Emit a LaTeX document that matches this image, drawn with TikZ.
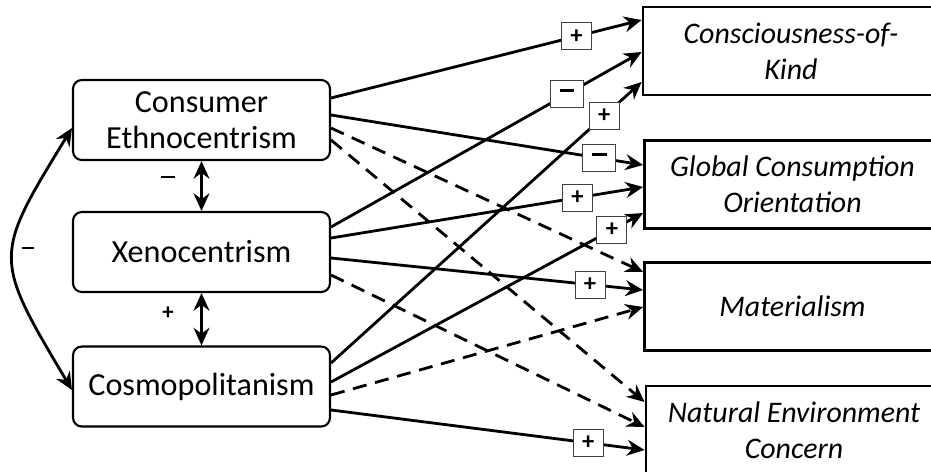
\documentclass[tikz,border=0pt]{standalone}
\usepackage{fontspec}
\setmainfont{Carlito}
\usetikzlibrary{arrows.meta}

\newcommand{\sgnminus}{\rule[0.27em]{0.6em}{0.11em}}

\tikzset{
  leftbox/.style={draw, rounded corners=5pt, line width=1.2pt, minimum width=5.14cm, minimum height=1.6cm, align=center, font=\fontsize{18.3}{20.5}\selectfont},
  rightbox/.style={draw, line width=1.6pt, minimum width=5.92cm, minimum height=1.76cm, align=center, font=\fontsize{17}{20.5}\selectfont\itshape},
  sign/.style={draw=black!75, line width=0.6pt, fill=white, inner sep=0pt, minimum width=0.6cm, minimum height=0.54cm, font=\fontsize{14}{14}\selectfont\bfseries},
  link/.style={line width=1.6pt, -{Stealth[length=10pt,width=9pt]}},
  maybe/.style={link, dash pattern=on 8pt off 5pt},
  twoway/.style={line width=1.6pt, {Stealth[length=10pt,width=9pt]}-{Stealth[length=10pt,width=9pt]}}
}

\begin{document}
\begin{tikzpicture}[x=0.02cm, y=-0.02cm]

\useasboundingbox (0,0) rectangle (931,471);

% antecedents
\node [leftbox] (ce) at (201.5,120) {Consumer\\Ethnocentrism};
\node [leftbox] (xeno) at (201.5,252) {Xenocentrism};
\node [leftbox] (cosmo) at (201.5,386.5) {Cosmopolitanism};

% outcomes
\node [rightbox] (cok) at (791,51) {Consciousness-of-\\Kind};
\node [rightbox] (gco) at (792.5,184.5) {Global Consumption\\Orientation};
\node [rightbox] (mat) at (792.5,306.5) {Materialism};
\node [rightbox] (nec) at (794,430) {Natural Environment\\Concern};

% correlations
\draw [twoway] (ce.south) -- (xeno.north);
\draw [twoway] (xeno.south) -- (cosmo.north);
\draw [twoway] (ce.west |- 0,128) .. controls (-7,257) .. (cosmo.west |- 0,390);
\node (m1) at (168,180) {\fontsize{13}{13}\selectfont\bfseries \sgnminus};
\node (p1) at (168,313) {\fontsize{13}{13}\selectfont\bfseries +};
\node (m2) at (28,251) {\fontsize{12}{12}\selectfont \rule[0.27em]{0.6em}{0.08em}};

% consumer ethnocentrism
\draw [link] (ce.east |- 0,98) -- node [sign, pos=0.79] {+} (cok.west |- 0,20);
\draw [link] (ce.east |- 0,115) -- node [sign, pos=0.86, minimum width=0.66cm] {\sgnminus} (gco.west |- 0,165);
\draw [maybe] (ce.east |- 0,128) -- (mat.west |- 0,272);
\draw [maybe] (ce.east |- 0,140) -- (nec.west |- 0,402);

% xenocentrism
\draw [link] (xeno.east |- 0,227) -- node [sign, pos=0.76, minimum width=0.66cm] {\sgnminus} (cok.west |- 0,52);
\draw [link] (xeno.east |- 0,238) -- node [sign, pos=0.79] {+} (gco.west |- 0,187);
\draw [link] (xeno.east |- 0,258) -- node [sign, pos=0.83] {+} (mat.west |- 0,290);
\draw [maybe] (xeno.east |- 0,275) -- (nec.west |- 0,427);

% cosmopolitanism
\draw [link] (cosmo.east |- 0,363) -- node [sign, pos=0.88] {+} (cok.west |- 0,82);
\draw [link] (cosmo.east |- 0,382) -- node [sign, pos=0.90] {+} (gco.west |- 0,213);
\draw [maybe] (cosmo.east |- 0,395) -- (mat.west |- 0,307);
\draw [link] (cosmo.east |- 0,410) -- node [sign, pos=0.82] {+} (nec.west |- 0,450);

\end{tikzpicture}
\end{document}
